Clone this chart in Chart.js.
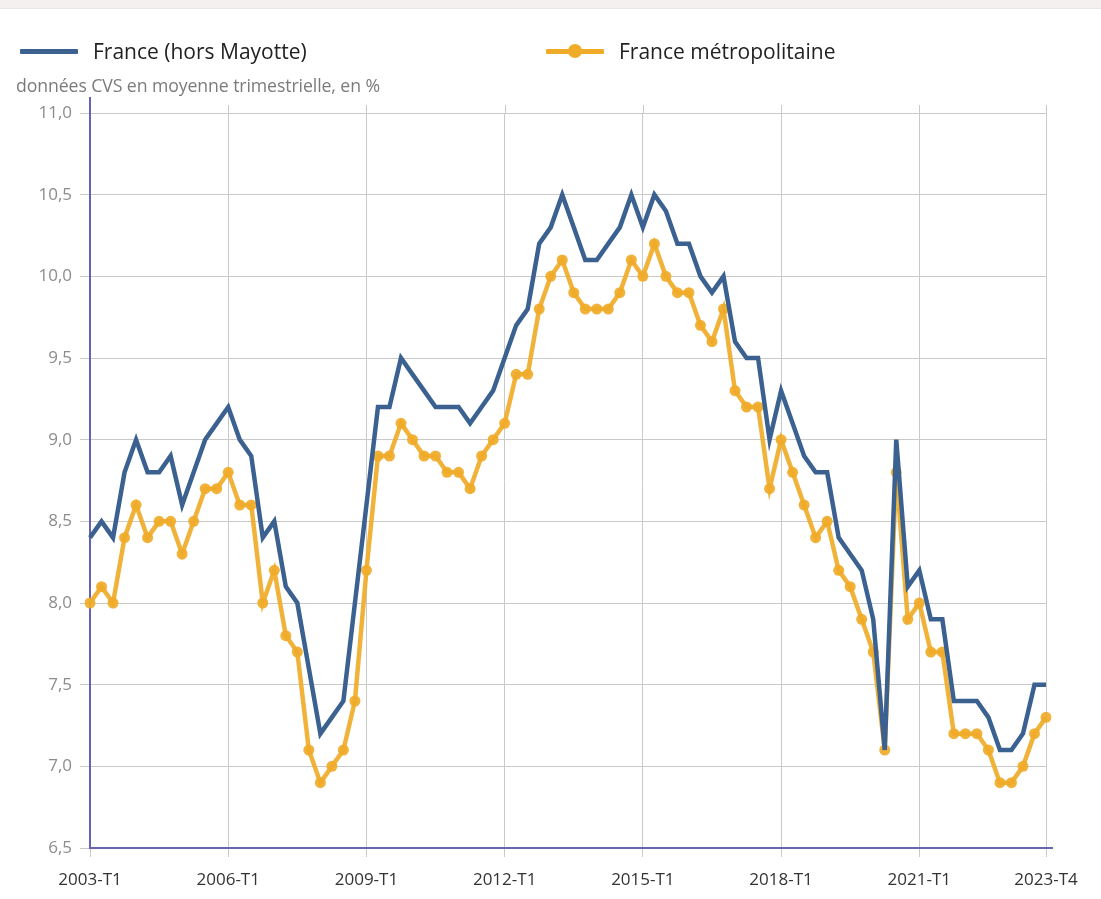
<!DOCTYPE html>
<html>
<head>
<meta charset="utf-8">
<script src="https://cdn.jsdelivr.net/npm/chart.js@4.4.1/dist/chart.umd.min.js"></script>
<style>
  html, body { margin:0; padding:0; background:#fff; }
  body { width:1101px; height:899px; position:relative; overflow:hidden; font-family:"Open Sans", sans-serif; }
  #topbar { position:absolute; left:0; top:0; width:1101px; height:8px; background:#f4f0f0; border-bottom:1px solid #ebe6e6; }
  #wrap { position:absolute; left:0; top:0; width:1101px; height:899px; }
  .leg { position:absolute; top:37px; height:28px; display:flex; align-items:center; font-size:21px; color:#222; }
  .sw { position:relative; width:58px; height:28px; margin-right:15px; }
  .sw .ln { position:absolute; left:0; right:0; top:12px; height:5px; border-radius:1px; }
  .sw .dt { position:absolute; left:22px; top:7px; width:14px; height:14px; border-radius:50%; }
  #sub { position:absolute; left:16px; top:73px; font-size:17.7px; color:#7b7b7b; letter-spacing:-0.1px; }
</style>
</head>
<body>
<div id="topbar"></div>
<div id="wrap"><canvas id="c" width="1101" height="899"></canvas></div>
<div class="leg" style="left:20px;"><div class="sw"><div class="ln" style="background:#3b6190"></div></div><span id="l1"></span></div>
<div class="leg" style="left:546px;"><div class="sw"><div class="ln" style="background:#f0ab29"></div><div class="dt" style="background:#f0ab29"></div></div><span id="l2"></span></div>
<div id="sub">données CVS en moyenne trimestrielle, en %</div>
<script>
// Quarters 2003-T1 .. 2023-T4
const years = [];
for (let y = 2003; y <= 2023; y++) years.push(y);
const quarters = [];
years.forEach(y => { for (let q = 1; q <= 4; q++) quarters.push(y + '-T' + q); });

const seriesNames = ['France (hors Mayotte)', 'France métropolitaine'];

const franceHorsMayotte = [
  8.4, 8.5, 8.4, 8.8, 9.0, 8.8, 8.8, 8.9, 8.6, 8.8, 9.0, 9.1,
  9.2, 9.0, 8.9, 8.4, 8.5, 8.1, 8.0, 7.6, 7.2, 7.3, 7.4, 8.0,
  8.6, 9.2, 9.2, 9.5, 9.4, 9.3, 9.2, 9.2, 9.2, 9.1, 9.2, 9.3,
  9.5, 9.7, 9.8, 10.2, 10.3, 10.5, 10.3, 10.1, 10.1, 10.2, 10.3, 10.5,
  10.3, 10.5, 10.4, 10.2, 10.2, 10.0, 9.9, 10.0, 9.6, 9.5, 9.5, 9.0,
  9.3, 9.1, 8.9, 8.8, 8.8, 8.4, 8.3, 8.2, 7.9, 7.1, 9.0, 8.1,
  8.2, 7.9, 7.9, 7.4, 7.4, 7.4, 7.3, 7.1, 7.1, 7.2, 7.5, 7.5
];

const franceMetropolitaine = [
  8.0, 8.1, 8.0, 8.4, 8.6, 8.4, 8.5, 8.5, 8.3, 8.5, 8.7, 8.7,
  8.8, 8.6, 8.6, 8.0, 8.2, 7.8, 7.7, 7.1, 6.9, 7.0, 7.1, 7.4,
  8.2, 8.9, 8.9, 9.1, 9.0, 8.9, 8.9, 8.8, 8.8, 8.7, 8.9, 9.0,
  9.1, 9.4, 9.4, 9.8, 10.0, 10.1, 9.9, 9.8, 9.8, 9.8, 9.9, 10.1,
  10.0, 10.2, 10.0, 9.9, 9.9, 9.7, 9.6, 9.8, 9.3, 9.2, 9.2, 8.7,
  9.0, 8.8, 8.6, 8.4, 8.5, 8.2, 8.1, 7.9, 7.7, 7.1, 8.8, 7.9,
  8.0, 7.7, 7.7, 7.2, 7.2, 7.2, 7.1, 6.9, 6.9, 7.0, 7.2, 7.3
];

const xTickLabels = ['2003-T1', '2006-T1', '2009-T1', '2012-T1', '2015-T1', '2018-T1', '2021-T1', '2023-T4'];
const yTicks = [6.5, 7.0, 7.5, 8.0, 8.5, 9.0, 9.5, 10.0, 10.5, 11.0];

document.getElementById('l1').textContent = seriesNames[0];
document.getElementById('l2').textContent = seriesNames[1];

const BLUE = '#3b6190';
const ORANGE = '#f0ab29';
const AXIS = '#6664b0';
const GRID = '#c9c9c9';

const axisPlugin = {
  id: 'axisLines',
  beforeDatasetsDraw(chart) {
    const { ctx, chartArea } = chart;
    const xs = chart.scales.x;
    ctx.save();
    ctx.strokeStyle = GRID;
    ctx.lineWidth = 1;
    xs.ticks.forEach(t => {
      const px = Math.round(xs.getPixelForValue(t.value)) + 0.5;
      if (Math.abs(px - chartArea.left) < 2) return;
      ctx.beginPath();
      ctx.moveTo(px, chartArea.top - 8);
      ctx.lineTo(px, chartArea.top);
      ctx.stroke();
    });
    ctx.strokeStyle = AXIS;
    ctx.lineWidth = 2;
    ctx.beginPath();
    ctx.moveTo(chartArea.left, chartArea.top - 16);
    ctx.lineTo(chartArea.left, chartArea.bottom);
    ctx.lineTo(chartArea.right + 7, chartArea.bottom);
    ctx.stroke();
    ctx.restore();
  }
};

new Chart(document.getElementById('c'), {
  type: 'line',
  data: {
    labels: quarters,
    datasets: [
      {
        label: seriesNames[0],
        data: franceHorsMayotte,
        borderColor: BLUE,
        backgroundColor: BLUE,
        borderWidth: 4.5,
        pointRadius: 0,
        pointHoverRadius: 0,
        tension: 0,
        borderJoinStyle: 'miter'
      },
      {
        label: seriesNames[1],
        data: franceMetropolitaine,
        borderColor: 'rgba(240,171,41,0.92)',
        backgroundColor: 'rgba(240,171,41,0.92)',
        borderWidth: 4.5,
        pointRadius: 5.5,
        pointBorderWidth: 0,
        pointHoverRadius: 5.5,
        tension: 0
      }
    ]
  },
  options: {
    responsive: false,
    animation: false,
    events: [],
    layout: { padding: { top: 113, right: 55, bottom: 0, left: 0 } },
    plugins: { legend: { display: false }, tooltip: { enabled: false } },
    scales: {
      x: {
        type: 'category',
        offset: false,
        afterBuildTicks(scale) {
          scale.ticks = xTickLabels.map(l => ({ value: quarters.indexOf(l) }));
        },
        afterFit(scale) { scale.height = 51; },
        border: { display: false },
        grid: { color: GRID, lineWidth: 1, drawTicks: true, tickLength: 9, tickColor: GRID },
        ticks: {
          autoSkip: false,
          maxRotation: 0,
          padding: 13,
          color: '#333',
          font: { family: 'Open Sans', size: 17 },
          callback(value) { return quarters[value]; }
        }
      },
      y: {
        type: 'linear',
        min: yTicks[0],
        max: yTicks[yTicks.length - 1],
        afterBuildTicks(scale) {
          scale.ticks = yTicks.map(v => ({ value: v }));
        },
        afterFit(scale) { scale.width = 90; },
        border: { display: false },
        grid: { color: GRID, lineWidth: 1, drawTicks: true, tickLength: 10, tickColor: GRID },
        ticks: {
          padding: 8,
          color: '#8c8c8c',
          font: { family: 'Open Sans', size: 17 },
          callback(value) { return Number(value).toFixed(1).replace('.', ','); }
        }
      }
    }
  },
  plugins: [axisPlugin]
});
</script>
</body>
</html>
